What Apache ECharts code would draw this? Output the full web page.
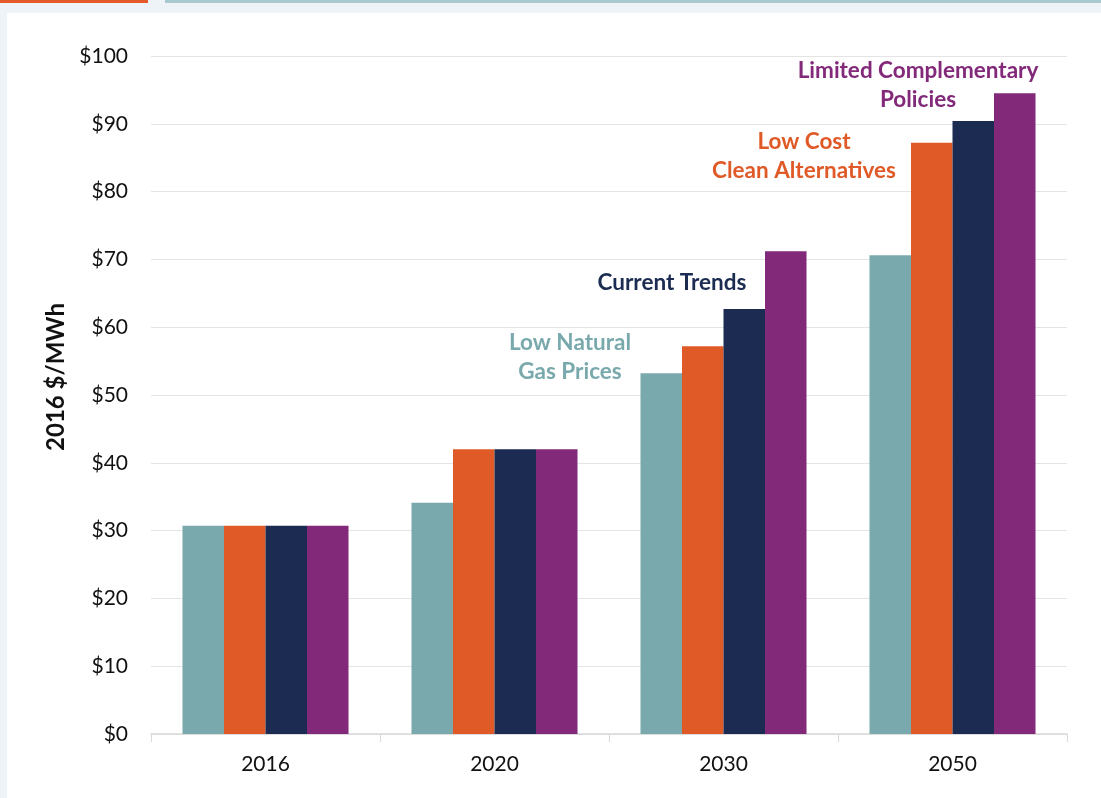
<!DOCTYPE html>
<html>
<head>
<meta charset="utf-8">
<script src="https://cdn.jsdelivr.net/npm/echarts@6/dist/echarts.min.js"></script>
<style>
  html, body { margin: 0; padding: 0; background: #eef3f7; }
  #chart { position: absolute; left: 7px; top: 13px; width: 1094px; height: 785px; background: #fff; }
  .bar-top { position: absolute; top: 0; height: 3px; }
</style>
</head>
<body>
<div class="bar-top" style="left:0;width:148px;background:#e55a2a"></div>
<div class="bar-top" style="left:165px;width:936px;background:#a9c9d0"></div>
<div id="chart"></div>
<script>
const years = ["2016", "2020", "2030", "2050"];
const lowGas = [30.7, 34.1, 53.2, 70.6];
const lowCost = [30.7, 42.0, 57.2, 87.2];
const currentTrends = [30.7, 42.0, 62.7, 90.4];
const limitedPolicies = [30.7, 42.0, 71.2, 94.5];
const yTicks = [0, 10, 20, 30, 40, 50, 60, 70, 80, 90, 100];

const font = "Lato, 'Open Sans', sans-serif";
const colors = ["#79a9ac", "#e05a28", "#1b2b52", "#83297a"];

const chart = echarts.init(document.getElementById("chart"));

function bar(name, data, color) {
  return {
    name: name,
    type: "bar",
    data: data,
    barGap: "0%",
    barCategoryGap: "27.5%",
    itemStyle: { color: color },
    animation: false,
  };
}

// series labels placed by hand next to the bars, like the original
function label(lines, x, y, color) {
  return {
    type: "text",
    x: x,
    y: y,
    style: {
      text: lines.join("\n"),
      fill: color,
      font: "bold 22.5px " + font,
      align: "center",
      verticalAlign: "top",
      lineHeight: 29,
    },
  };
}

const option = {
  backgroundColor: "#fff",
  grid: { left: 144, right: 34, top: 43, bottom: 64 },
  xAxis: {
    type: "category",
    data: years,
    axisLine: { lineStyle: { color: "#d9d9d9", width: 1.5 } },
    axisTick: { show: true, length: 8, lineStyle: { color: "#d9d9d9" } },
    axisLabel: { fontSize: 21, color: "#111", fontFamily: font, margin: 20 },
  },
  yAxis: {
    type: "value",
    min: yTicks[0],
    max: yTicks[yTicks.length - 1],
    interval: 10,
    name: "2016 $/MWh",
    nameLocation: "middle",
    nameGap: 78,
    nameTextStyle: {
      fontSize: 24,
      fontWeight: "bold",
      color: "#111",
      fontFamily: font,
      padding: [0, 0, 0, 36],
    },
    axisLine: { show: false },
    axisTick: { show: false },
    splitLine: { lineStyle: { color: "#e4e4e4" } },
    axisLabel: {
      fontSize: 21,
      color: "#111",
      fontFamily: font,
      margin: 23,
      formatter: (v) => "$" + v,
    },
  },
  series: [
    bar("Low Natural Gas Prices", lowGas, colors[0]),
    bar("Low Cost Clean Alternatives", lowCost, colors[1]),
    bar("Current Trends", currentTrends, colors[2]),
    bar("Limited Complementary Policies", limitedPolicies, colors[3]),
  ],
  graphic: [
    label(["Low Natural", "Gas Prices"], 563, 315, colors[0]),
    label(["Current Trends"], 665, 255, colors[2]),
    label(["Low Cost", "Clean Alternatives"], 797, 114, colors[1]),
    label(["Limited Complementary", "Policies"], 911, 43, colors[3]),
  ],
};

chart.setOption(option);
</script>
</body>
</html>
